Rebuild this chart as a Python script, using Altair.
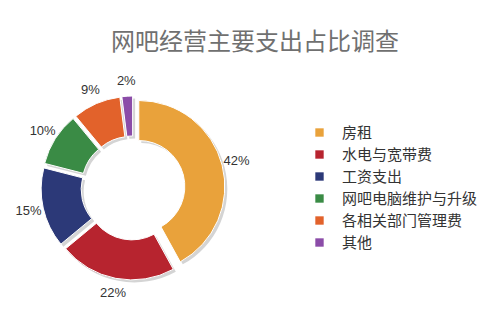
import altair as alt
import pandas as pd

categories = ["房租", "水电与宽带费", "工资支出", "网吧电脑维护与升级", "各相关部门管理费", "其他"]
values = [42, 22, 15, 10, 9, 2]
labels = ["42%", "22%", "15%", "10%", "9%", "2%"]
colors = ["#E9A23B", "#B7242F", "#2C3978", "#3A8B45", "#E2622B", "#8B4CA8"]
title_text = "网吧经营主要支出占比调查"

df = pd.DataFrame({"cat": categories, "value": values, "label": labels,
                   "order": list(range(len(categories)))})

FONT = "Noto Sans CJK SC"
CX, CY, EXPLODE = 133, 188, 6

base = alt.Chart(df).transform_window(
    cum="sum(value)", sort=[alt.SortField("order")], frame=[None, 0]
).transform_joinaggregate(total="sum(value)").transform_calculate(
    mid="(datum.cum - datum.value/2) / datum.total * 2 * PI",
).transform_calculate(
    px=f"{CX} + {EXPLODE} * sin(datum.mid)",
    py=f"{CY} - {EXPLODE} * cos(datum.mid)",
    sx=f"{CX} + 2.5 + {EXPLODE} * sin(datum.mid)",
    sy=f"{CY} + 2.5 - {EXPLODE} * cos(datum.mid)",
)

theta = alt.Theta("value:Q", stack=True)
order = alt.Order("order:Q")

shadow = base.mark_arc(innerRadius=46, outerRadius=86, color="#d4d4d4").encode(
    theta=theta, order=order,
    x=alt.X("sx:Q", scale=None), y=alt.Y("sy:Q", scale=None),
)

arcs = base.mark_arc(innerRadius=46, outerRadius=86, stroke="white", strokeWidth=1).encode(
    theta=theta, order=order,
    x=alt.X("px:Q", scale=None), y=alt.Y("py:Q", scale=None),
    color=alt.Color("cat:N", scale=alt.Scale(domain=categories, range=colors),
                    legend=alt.Legend(title=None, orient="none", legendX=312, legendY=125,
                                      symbolType="square", symbolSize=70,
                                      labelFont=FONT, labelFontSize=15, labelColor="#333333",
                                      labelOffset=15, rowPadding=6, padding=0,
                                      symbolStrokeWidth=0)),
)

text = base.mark_text(radius=101, font="Liberation Sans", fontSize=13, color="#333333").encode(
    theta=theta, order=order, text="label:N",
    x=alt.X("px:Q", scale=None), y=alt.Y("py:Q", scale=None),
)

title = alt.Chart(pd.DataFrame({"t": [title_text]})).mark_text(
    font=FONT, fontSize=24, color="#707070"
).encode(text="t:N", x=alt.value(255), y=alt.value(43))

chart = alt.layer(shadow, arcs, text, title).properties(
    width=500, height=312, padding=0, autosize=alt.AutoSizeParams(type="none"),
    background="white"
).configure_view(stroke=None)

chart.save("out.html", embed_options={"renderer": "svg", "actions": False})
